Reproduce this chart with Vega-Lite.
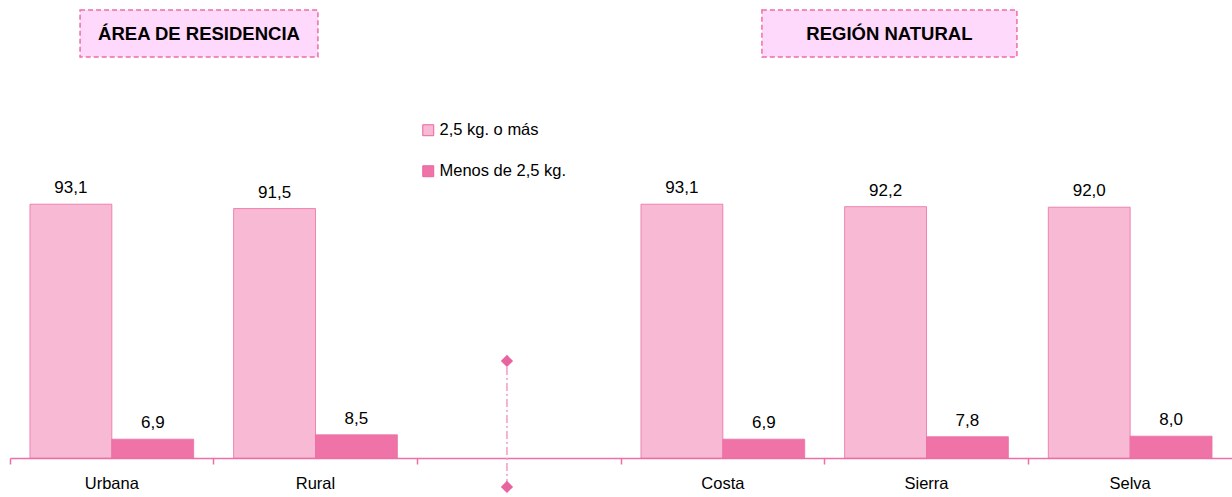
{
  "$schema": "https://vega.github.io/schema/vega-lite/v6.json",
  "width": 1222,
  "height": 458,
  "autosize": {"type": "none"},
  "padding": {"left": 10, "top": 0, "right": 0, "bottom": 39},
  "config": {
    "view": {"stroke": null},
    "locale": {"number": {"decimal": ",", "thousands": ".", "grouping": [3], "currency": ["", ""]}},
    "font": "Liberation Sans"
  },
  "resolve": {"scale": {"x": "independent"}},
  "layer": [
    {
      "data": {"values": [
        {"cat": "Urbana", "serie": "2,5 kg. o más", "v": 93.1},
        {"cat": "Urbana", "serie": "Menos de 2,5 kg.", "v": 6.9},
        {"cat": "Rural", "serie": "2,5 kg. o más", "v": 91.5},
        {"cat": "Rural", "serie": "Menos de 2,5 kg.", "v": 8.5},
        {"cat": "Costa", "serie": "2,5 kg. o más", "v": 93.1},
        {"cat": "Costa", "serie": "Menos de 2,5 kg.", "v": 6.9},
        {"cat": "Sierra", "serie": "2,5 kg. o más", "v": 92.2},
        {"cat": "Sierra", "serie": "Menos de 2,5 kg.", "v": 7.8},
        {"cat": "Selva", "serie": "2,5 kg. o más", "v": 92.0},
        {"cat": "Selva", "serie": "Menos de 2,5 kg.", "v": 8.0}
      ]},
      "encoding": {
        "x": {
          "field": "cat", "type": "nominal",
          "scale": {"domain": ["Urbana", "Rural", " ", "Costa", "Sierra", "Selva"], "paddingInner": 0, "paddingOuter": 0},
          "axis": {
            "title": null, "labelAngle": 0, "bandPosition": 0,
            "domainColor": "#ee6fa6", "domainWidth": 1.5,
            "tickColor": "#ee6fa6", "tickWidth": 1.5, "tickSize": 6,
            "labelFontSize": 16.5, "labelColor": "#000000", "labelPadding": 11,
            "labelFont": "Liberation Sans"
          }
        },
        "xOffset": {
          "field": "serie", "type": "nominal",
          "sort": ["2,5 kg. o más", "Menos de 2,5 kg."],
          "scale": {"paddingOuter": 0.244, "paddingInner": 0}
        },
        "y": {"field": "v", "type": "quantitative", "scale": {"domain": [0, 168], "nice": false, "zero": true}, "axis": null}
      },
      "layer": [
        {
          "mark": {"type": "bar", "stroke": "#eb6fa4", "strokeWidth": 1, "strokeOpacity": 0.8},
          "encoding": {
            "color": {
              "field": "serie", "type": "nominal",
              "scale": {"domain": ["2,5 kg. o más", "Menos de 2,5 kg."], "range": ["#f8b9d5", "#f073a8"]},
              "legend": {
                "title": null, "orient": "none", "legendX": 410, "legendY": 122,
                "symbolType": "square", "symbolSize": 120,
                "symbolStrokeColor": "#e8649e", "symbolStrokeWidth": 1,
                "labelFontSize": 16.5, "labelColor": "#000000", "labelFont": "Liberation Sans",
                "rowPadding": 24, "labelOffset": 3
              }
            }
          }
        },
        {
          "mark": {"type": "text", "baseline": "alphabetic", "dy": -11, "fontSize": 17, "color": "#000000", "font": "Liberation Sans"},
          "encoding": {"text": {"field": "v", "type": "quantitative", "format": ".1f"}}
        }
      ]
    },
    {
      "data": {"values": [
        {"label": "ÁREA DE RESIDENCIA", "xa": 0.344, "xb": 1.512, "xc": 0.928, "ya": 147.1, "yb": 164.3, "yc": 155.7},
        {"label": "REGIÓN NATURAL", "xa": 3.692, "xb": 4.944, "xc": 4.318, "ya": 147.1, "yb": 164.3, "yc": 155.7}
      ]},
      "layer": [
        {
          "mark": {"type": "rect", "fill": "#ffd9fc", "stroke": "#ec6fa5", "strokeWidth": 1.5, "strokeDash": [5, 3]},
          "encoding": {
            "x": {"field": "xa", "type": "quantitative", "scale": {"domain": [0, 6], "nice": false, "zero": false}, "axis": null},
            "x2": {"field": "xb"},
            "y": {"field": "ya", "type": "quantitative", "scale": {"domain": [0, 168], "nice": false}, "axis": null},
            "y2": {"field": "yb"}
          }
        },
        {
          "mark": {"type": "text", "fontSize": 18.5, "fontWeight": "bold", "color": "#000000", "baseline": "middle", "font": "Liberation Sans"},
          "encoding": {
            "x": {"field": "xc", "type": "quantitative", "scale": {"domain": [0, 6], "nice": false, "zero": false}, "axis": null},
            "y": {"field": "yc", "type": "quantitative", "scale": {"domain": [0, 168], "nice": false}, "axis": null},
            "text": {"field": "label"}
          }
        }
      ]
    },
    {
      "data": {"values": [{"xd": 2.44, "ya": -10.6, "yb": 35.6}]},
      "mark": {"type": "rule", "color": "#f09cc2", "strokeWidth": 1.5, "strokeDash": [8, 3, 2, 3]},
      "encoding": {
        "x": {"field": "xd", "type": "quantitative", "scale": {"domain": [0, 6], "nice": false, "zero": false}, "axis": null},
        "y": {"field": "ya", "type": "quantitative", "scale": {"domain": [0, 168], "nice": false}, "axis": null},
        "y2": {"field": "yb"}
      }
    },
    {
      "data": {"values": [{"xd": 2.44, "yd": -10.6}, {"xd": 2.44, "yd": 35.6}]},
      "mark": {"type": "point", "shape": "diamond", "size": 150, "filled": true, "color": "#e8649e", "opacity": 1},
      "encoding": {
        "x": {"field": "xd", "type": "quantitative", "scale": {"domain": [0, 6], "nice": false, "zero": false}, "axis": null},
        "y": {"field": "yd", "type": "quantitative", "scale": {"domain": [0, 168], "nice": false}, "axis": null}
      }
    }
  ]
}
